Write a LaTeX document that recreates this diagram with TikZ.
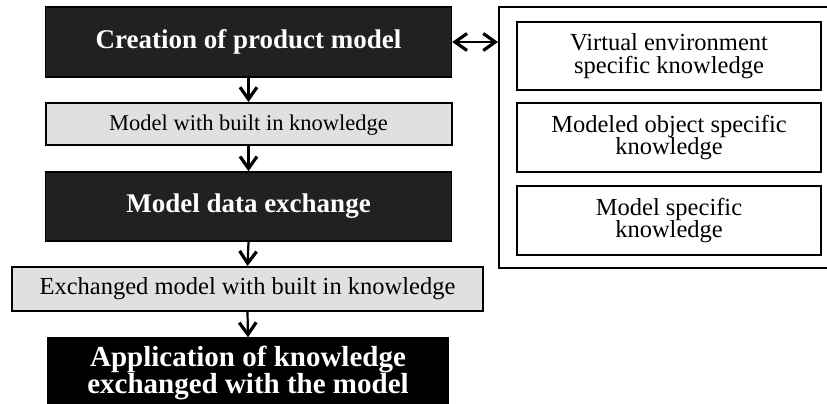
\documentclass[tikz,border=0pt]{standalone}
\usepackage{fontspec}
\setmainfont{Liberation Serif}
\usetikzlibrary{arrows.meta}
\begin{document}
\begin{tikzpicture}[x=1pt,y=-1pt,
  darkbox/.style={draw=black,line width=1.5pt,fill=black!87,text=white,font=\fontsize{27}{26}\selectfont\bfseries,inner sep=0pt,align=center},
  blackbox/.style={draw=black,line width=1.5pt,fill=black,text=white,font=\fontsize{29}{25.5}\selectfont\bfseries,inner sep=0pt,align=center},
  graybox/.style={draw=black,line width=2pt,fill=black!12,font=\fontsize{22.5}{22}\selectfont,inner sep=0pt,align=center},
  whitebox/.style={draw=black,line width=2pt,fill=white,font=\fontsize{24.5}{22.7}\selectfont,inner sep=0pt,align=center},
  tip/.style={Straight Barb[length=12pt,width=17pt,line width=3.2pt]},
  arr/.style={line width=2.2pt,-{Straight Barb[length=12pt,width=17pt,line width=3.2pt]}},
  darr/.style={line width=2.2pt,{Straight Barb[length=12pt,width=17pt,line width=3.2pt]}-{Straight Barb[length=12pt,width=17pt,line width=3.2pt]}}]
\useasboundingbox (0,0) rectangle (827,404);
\fill[white] (0,0) rectangle (827,404);
\node[darkbox,minimum width=406pt,minimum height=70pt] (b1) at (248.5,42) {Creation of product model};
\node[graybox,minimum width=406pt,minimum height=42pt,text height=17.5pt] (b2) at (248.5,124) {Model with built in knowledge};
\node[darkbox,minimum width=406pt,minimum height=69pt] (b3) at (248.5,206.5) {Model data exchange};
\node[graybox,minimum width=471pt,minimum height=44pt,font=\fontsize{24.5}{24}\selectfont] (b4) at (247.5,289) {Exchanged model with built in knowledge};
\node[blackbox,minimum width=400pt,minimum height=70pt] (b5) at (248,373) {Application of knowledge\\exchanged with the model};
\node[draw=black,line width=2pt,fill=white,minimum width=340pt,minimum height=261pt,inner sep=0pt] (outer) at (669,137.5) {};
\node[whitebox,minimum width=304pt,minimum height=68pt] (k1) at (669,56) {Virtual environment\\specific knowledge};
\node[whitebox,minimum width=304pt,minimum height=69pt] (k2) at (669,137.5) {Modeled object specific\\knowledge};
\node[whitebox,minimum width=304pt,minimum height=69pt] (k3) at (669,220.5) {Model specific\\knowledge};
\draw[arr] (b1.south) -- (b2.north);
\draw[arr] (b2.south) -- (b3.north);
\draw[arr] (b3.south) -- (b4.north);
\draw[arr] (b4.south) -- (b5.north);
\draw[darr] (b1.east) -- (outer.west |- b1.east);
\end{tikzpicture}
\end{document}
